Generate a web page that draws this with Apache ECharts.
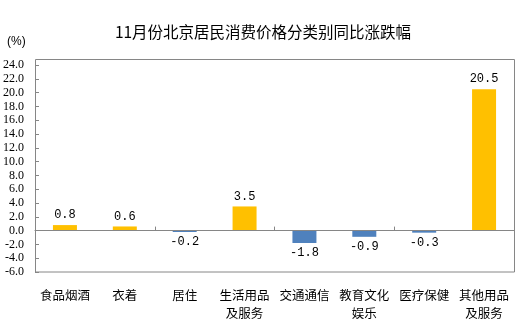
<!DOCTYPE html>
<html>
<head>
<meta charset="utf-8">
<script src="https://cdn.jsdelivr.net/npm/echarts@6/dist/echarts.min.js"></script>
<style>html,body{margin:0;padding:0;background:#fff;}#c{width:528px;height:332px;}</style>
</head>
<body>
<div id="c"></div>
<script>
const titleText = '11月份北京居民消费价格分类别同比涨跌幅';
const unitLabel = '(%)';
const categories = ['食品烟酒', '衣着', '居住', '生活用品\n及服务', '交通通信', '教育文化\n娱乐', '医疗保健', '其他用品\n及服务'];
const values = [0.8, 0.6, -0.2, 3.5, -1.8, -0.9, -0.3, 20.5];
const yMin = -6, yMax = 24, yStep = 2;

const POS = '#FFC000', NEG = '#4F81BD', AXIS = '#868686';

const chart = echarts.init(document.getElementById('c'), null, {renderer: 'canvas'});
chart.setOption({
  animation: false,
  backgroundColor: '#fff',
  title: {
    text: titleText,
    left: 258, top: 19, textAlign: 'center',
    textStyle: {fontSize: 15.5, fontWeight: 'normal', color: '#000', fontFamily: 'Noto Sans CJK SC'}
  },
  graphic: [
    {type: 'text', left: 7, top: 36, style: {text: unitLabel, font: '12px "Liberation Sans"', fill: '#000'}},
    {type: 'rect', shape: {x: 35.5, y: 59.5, width: 479, height: 212.5}, style: {fill: 'none', stroke: AXIS, lineWidth: 1}, z: 10}
  ],
  grid: {left: 35, right: 14, top: 65, bottom: 60},
  xAxis: [
    {
      type: 'category', data: categories, z: 5,
      axisLine: {onZero: true, lineStyle: {color: AXIS, width: 1}},
      axisTick: {show: true, inside: true, length: 4, lineStyle: {color: AXIS}},
      axisLabel: {show: false}
    },
    {
      type: 'category', data: categories, position: 'bottom',
      axisLine: {show: false}, axisTick: {show: false},
      axisLabel: {margin: 14, fontSize: 12.5, lineHeight: 18, color: '#000', fontFamily: 'Noto Sans CJK SC', interval: 0}
    }
  ],
  yAxis: {
    type: 'value', min: yMin, max: yMax, interval: yStep,
    axisLine: {show: false},
    axisTick: {show: true, inside: true, length: 4, lineStyle: {color: AXIS}},
    splitLine: {show: false},
    axisLabel: {margin: 11, fontSize: 12, color: '#000', fontFamily: 'Liberation Serif', formatter: v => v.toFixed(1)}
  },
  series: [{
    type: 'bar', xAxisIndex: 0, barWidth: 24,
    data: values.map(v => ({
      value: v,
      itemStyle: {color: v >= 0 ? POS : NEG},
      label: {position: v >= 0 ? 'top' : 'bottom'}
    })),
    label: {
      show: true, distance: 4, fontSize: 12, color: '#000', fontFamily: 'Liberation Mono',
      formatter: p => p.value.toFixed(1)
    }
  }]
});
</script>
</body>
</html>
